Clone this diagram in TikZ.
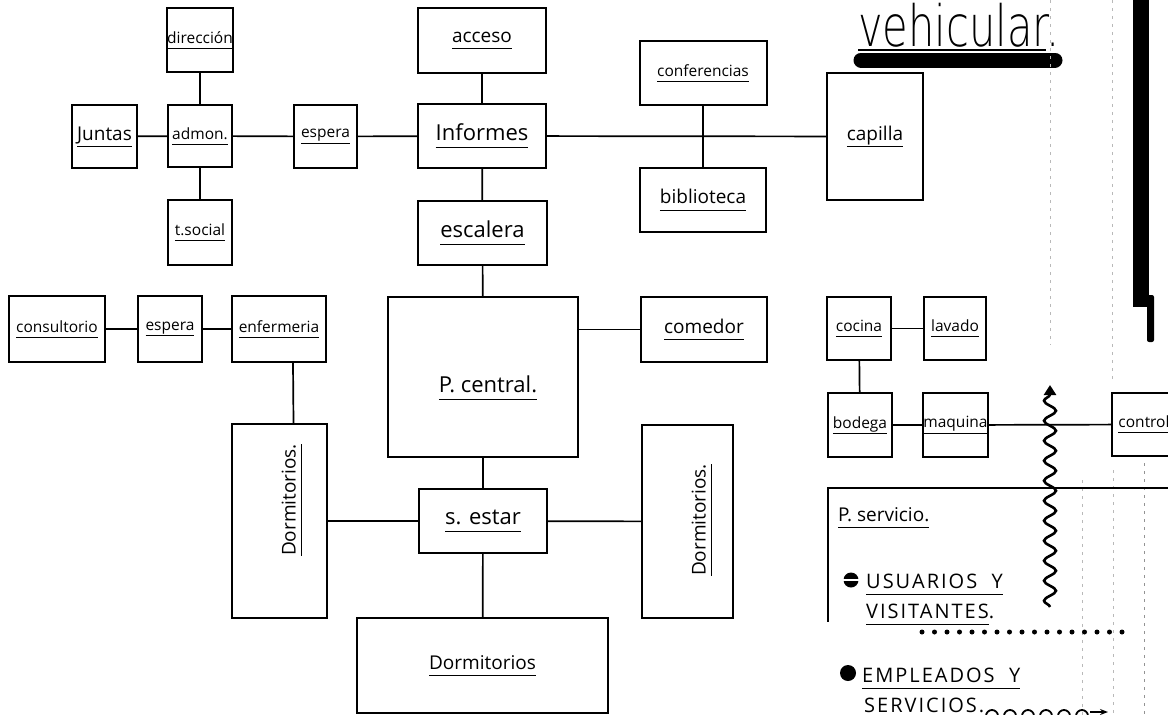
\documentclass[tikz,border=0pt]{standalone}
\usepackage{graphicx}
\usepackage{fontspec}
\setmainfont{Open Sans}
\newfontfamily\hand{Open Sans}
\newfontfamily\handcaps[LetterSpace=10]{Open Sans}
\newfontfamily\titlefont{DejaVu Sans ExtraLight}
\usetikzlibrary{arrows.meta,decorations.pathmorphing}
\newcommand{\uln}[1]{\underline{#1\vphantom{g}}}

\begin{document}
\begin{tikzpicture}[x=1pt,y=-1pt,>=Stealth,
  room/.style={draw,line width=2pt,inner sep=0pt,align=center,
    font=\hand\fontsize{19}{21}\selectfont},
  tight/.style={font=\hand\fontsize{15.5}{17}\selectfont},
  wide/.style={font=\hand\fontsize{22}{24}\selectfont},
  tag/.style={inner sep=0pt,font=\hand\fontsize{19}{21}\selectfont},
  legend/.style={inner sep=0pt,anchor=base west,font=\handcaps\fontsize{20}{22}\selectfont},
  link/.style={line width=1.7pt},
  guide/.style={gray!55,line width=0.8pt,dash pattern=on 3pt off 5pt}]
\clip (0,0) rectangle (1168,715);
\fill[white] (0,0) rectangle (1168,715);

% administracion
\node[room,tight,minimum width=64,minimum height=64] (dirc) at (200,40) {\uln{dirección}};
\node[room,tight,minimum width=64,minimum height=62] (admon) at (200,136) {\uln{admon.}};
\node[room,minimum width=65,minimum height=63] (juntas) at (104.5,136.5) {\uln{Juntas}};
\node[room,tight,minimum width=63,minimum height=63] (esp1) at (325.5,136.5) {\uln{espera}};
\node[room,tight,minimum width=64,minimum height=65] (tsoc) at (200,232.5) {\uln{t.social}};

% acceso y centro
\node[room,minimum width=128,minimum height=65] (acceso) at (482,40.5) {\uln{acceso}};
\node[room,wide,minimum width=128,minimum height=64] (informes) at (482,136) {\uln{Informes}};
\node[room,wide,minimum width=129,minimum height=64] (escalera) at (482.5,233) {\uln{escalera}};
\node[room,tight,minimum width=127,minimum height=64] (conf) at (703,73) {\uln{conferencias}};
\node[room,minimum width=126,minimum height=64] (biblio) at (703,200) {\uln{biblioteca}};
\node[room,minimum width=96,minimum height=127] (capilla) at (875,136.5) {\uln{capilla}};

% enfermeria
\node[room,tight,minimum width=96,minimum height=66] (consul) at (57,329) {\uln{consultorio}};
\node[room,tight,minimum width=64,minimum height=66] (esp2) at (170,329) {\uln{espera}};
\node[room,tight,minimum width=94,minimum height=66] (enfer) at (279,329) {\uln{enfermeria}};

% patio y dormitorios
\node[room,minimum width=190,minimum height=160] (pc) at (483,377) {};
\node[tag,wide] (pctxt) at (488,388) {\uln{P. central.}};
\node[room,minimum width=126,minimum height=65] (comedor) at (704,329.5) {\uln{comedor}};
\node[room,minimum width=95,minimum height=194] (dormL) at (279.5,521) {};
\node[tag,rotate=90] (dormLtxt) at (292,500) {\uln{Dormitorios.}};
\node[room,wide,minimum width=128,minimum height=64] (sestar) at (483,521) {\uln{s. estar}};
\node[room,minimum width=91,minimum height=193] (dormR) at (687.5,521.5) {};
\node[tag,rotate=90] (dormRtxt) at (702,520) {\uln{Dormitorios.}};
\node[room,minimum width=251,minimum height=95] (dormB) at (482.5,665.5) {\uln{Dormitorios}};

% servicio
\node[room,tight,minimum width=64,minimum height=63] (cocina) at (859,328.5) {\uln{cocina}};
\node[room,tight,minimum width=62,minimum height=63] (lavado) at (955,328.5) {\uln{lavado}};
\node[room,tight,minimum width=64,minimum height=64] (bodega) at (860,425) {\uln{bodega}};
\node[room,tight,minimum width=65,minimum height=64] (maquina) at (955.5,425) {\uln{maquina}};
\node[room,tight,minimum width=64,minimum height=63] (control) at (1144,424.5) {\uln{control}};

\draw[link] (juntas) -- (admon);
\draw[link] (dirc) -- (admon);
\draw[link] (admon) -- (tsoc);
\draw[link] (admon) -- (esp1);
\draw[link] (esp1) -- (informes);
\draw[link] (acceso) -- (informes);
\draw[link] (informes) -- (escalera);
\draw[link] (informes) -- (capilla);
\draw[link] (conf) -- (biblio);
\draw[link] (escalera) -- (pc);
\draw[link] (comedor) -- (comedor -| pc.east);
\draw[link] (pc) -- (sestar);
\draw[link] (sestar) -- (dormB);
\draw[link] (dormL) -- (sestar);
\draw[link] (sestar) -- (dormR);
\draw[link] (consul) -- (esp2);
\draw[link] (esp2) -- (enfer);
\draw[link] ([xshift=14pt]enfer.south) -- ([xshift=14pt]dormL.north);
\draw[link] (cocina) -- (lavado);
\draw[link] (cocina) -- (bodega);
\draw[link] (bodega) -- (maquina);
\draw[link] (maquina) -- (control);

% titulo y barras
\node[inner sep=0pt,anchor=base west] (vtitle) at (858,46)
  {\titlefont\fontsize{57}{57}\selectfont\scalebox{0.73}[1]{vehicular.}};
\draw[line width=1.2pt] (858,50) -- (1046,50);
\draw[line width=15pt,line cap=round] (861,60) -- (1055,60);
\fill (1133,0) rectangle (1149,307);
\fill[rounded corners=2pt] (1147,295) rectangle (1154,342);

\draw[guide] (1050,0) -- (1050,345);
\draw[guide] (1112,0) -- (1112,380);
\draw[guide] (1082,480) -- (1082,715);
\draw[guide] (1113,470) -- (1113,715);
\draw[guide,gray!85] (1144,463) -- (1144,715);

% flujo
\coordinate (wbot) at (1050,607);
\coordinate (wtop) at (1050,385);
\draw[line width=2.6pt,-{Triangle[length=10pt,width=12pt]},decorate,
  decoration={snake,segment length=20pt,amplitude=6pt,post length=8pt}] (wbot) -- (wtop);

% leyenda
\draw[link] (1168,488) -- (828,488) -- (828,622);
\node[tag,anchor=base west] (pserv) at (838,521) {\uln{P. servicio.}};
\fill (851,580) circle (7.5);
\draw[white,line width=1.2pt] (843,580) -- (859,580);
\node[legend] (usu) at (866,588) {\uln{USUARIOS\ \ Y}};
\node[legend] (vis) at (866,618) {\uln{VISITANTES}.};
\draw[line width=5pt,line cap=round,dash pattern=on 0pt off 12.5pt] (922,632) -- (1127,632);
\fill (848,673) circle (8);
\node[legend] (emp) at (862,682) {\uln{EMPLEADOS\ \ Y}};
\node[legend] (serv) at (864,712) {SERVICIOS.};
\foreach \cx in {992,1010,1028,1046,1064,1082}
  \draw[line width=1.8pt] (\cx,716) circle (6);
\draw[line width=1.8pt,-{Stealth[length=8pt]}] (1090,712) -- (1108,712);
\end{tikzpicture}
\end{document}
